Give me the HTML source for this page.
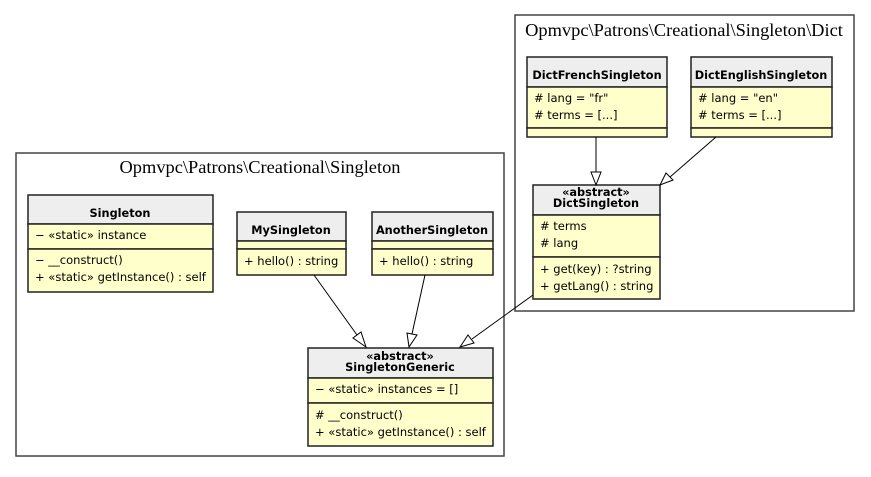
<!DOCTYPE html>
<html><head><meta charset="utf-8"><style>
body{margin:0;background:#fff}
svg text{font-family:"DejaVu Sans",sans-serif;font-size:11.5px;fill:#000}
svg text.b{font-weight:bold;text-anchor:middle;font-size:11.3px}
svg text.t{font-family:"Liberation Serif",serif;font-size:18.4px;text-anchor:middle}
.h{fill:#eeeeee;stroke:#222;stroke-width:1.5}
.y{fill:#ffffcc;stroke:#222;stroke-width:1.5}
.p{fill:none;stroke:#444;stroke-width:1.5}
.l{stroke:#000;stroke-width:1}
.a{fill:#fff;stroke:#000;stroke-width:1}
</style></head><body>
<svg width="871" height="472" xmlns="http://www.w3.org/2000/svg">
<rect class="p" x="16" y="153" width="488" height="303"/>
<text class="t" x="260" y="173">Opmvpc\Patrons\Creational\Singleton</text>
<rect class="p" x="515" y="15" width="339" height="296"/>
<text class="t" x="684" y="36">Opmvpc\Patrons\Creational\Singleton\Dict</text>

<rect class="h" x="28" y="195" width="185" height="29"/>
<rect class="y" x="28" y="224" width="185" height="25"/>
<rect class="y" x="28" y="249" width="185" height="43"/>
<text class="b" x="120" y="217">Singleton</text>
<text x="35" y="239">− «static» instance</text>
<text x="35" y="264">− __construct()</text>
<text x="35" y="281">+ «static» getInstance() : self</text>

<rect class="h" x="237" y="212" width="109" height="29"/>
<rect class="y" x="237" y="241" width="109" height="8"/>
<rect class="y" x="237" y="249" width="109" height="26"/>
<text class="b" x="291" y="234">MySingleton</text>
<text x="244" y="265">+ hello() : string</text>

<rect class="h" x="372" y="212" width="121" height="29"/>
<rect class="y" x="372" y="241" width="121" height="8"/>
<rect class="y" x="372" y="249" width="121" height="26"/>
<text class="b" x="432" y="234">AnotherSingleton</text>
<text x="379" y="265">+ hello() : string</text>

<rect class="h" x="308" y="348" width="185" height="30"/>
<rect class="y" x="308" y="378" width="185" height="25"/>
<rect class="y" x="308" y="403" width="185" height="43"/>
<text class="b" x="400" y="360">«abstract»</text>
<text class="b" x="400" y="371">SingletonGeneric</text>
<text x="315" y="393">− «static» instances = []</text>
<text x="315" y="419">#  __construct()</text>
<text x="315" y="436">+ «static» getInstance() : self</text>

<rect class="h" x="527" y="57" width="140" height="30"/>
<rect class="y" x="527" y="87" width="140" height="41"/>
<rect class="y" x="527" y="128" width="140" height="9"/>
<text class="b" x="597" y="79">DictFrenchSingleton</text>
<text x="534" y="102"># lang = "fr"</text>
<text x="534" y="119"># terms = [...]</text>

<rect class="h" x="691" y="57" width="141" height="30"/>
<rect class="y" x="691" y="87" width="141" height="41"/>
<rect class="y" x="691" y="128" width="141" height="9"/>
<text class="b" x="761" y="79">DictEnglishSingleton</text>
<text x="698" y="102"># lang = "en"</text>
<text x="698" y="119"># terms = [...]</text>

<rect class="h" x="533" y="185" width="127" height="30"/>
<rect class="y" x="533" y="215" width="127" height="42"/>
<rect class="y" x="533" y="257" width="127" height="42"/>
<text class="b" x="596" y="196">«abstract»</text>
<text class="b" x="596" y="207">DictSingleton</text>
<text x="540" y="230"># terms</text>
<text x="540" y="247"># lang</text>
<text x="540" y="273">+ get(key) : ?string</text>
<text x="540" y="290">+ getLang() : string</text>

<line class="l" x1="314" y1="275" x2="357" y2="335"/>
<polygon class="a" points="366,347 353,338 361,332"/>
<line class="l" x1="425" y1="275" x2="412" y2="334"/>
<polygon class="a" points="409,347 407,333 417,335"/>
<line class="l" x1="533" y1="295" x2="472" y2="339"/>
<polygon class="a" points="460,347 468,335 474,343"/>
<line class="l" x1="596" y1="137" x2="596" y2="172"/>
<polygon class="a" points="596,185 591,172 601,172"/>
<line class="l" x1="716" y1="137" x2="670" y2="177"/>
<polygon class="a" points="660,185 666,173 673,180"/>
</svg>
</body></html>
